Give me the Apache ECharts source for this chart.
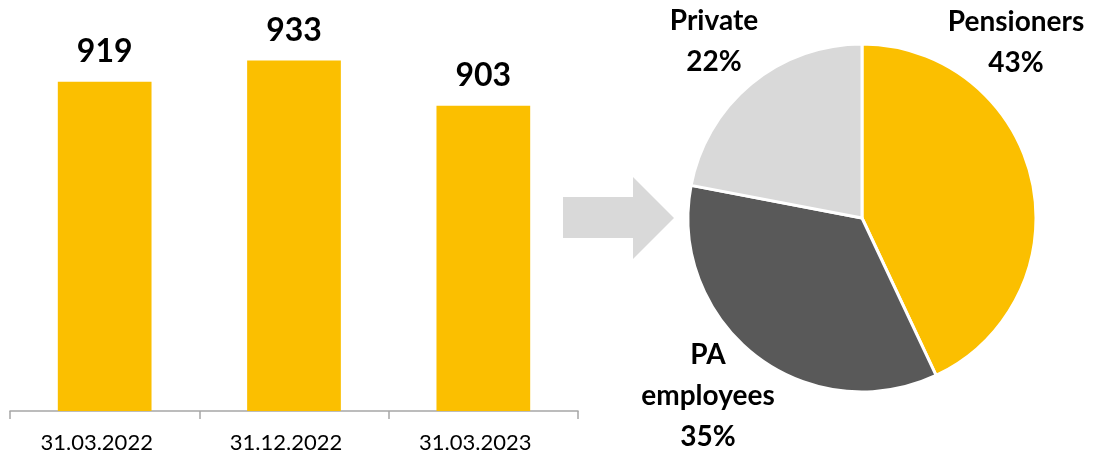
<!DOCTYPE html>
<html>

<head>
    <meta charset="utf-8" />
    <title>Clients</title>
    <script src="https://cdn.jsdelivr.net/npm/echarts@6.0.0/dist/echarts.min.js"></script>
    <style>
        html, body {
            margin: 0;
            padding: 0;
            background: #fff;
        }
    </style>
</head>

<body>
    <div id="main" style="width: 1094px;height:459px;"></div>
</body>

<script>
    // 数据
    var dates = ['31.03.2022', '31.12.2022', '31.03.2023'];
    var clients = [919, 933, 903];
    var segmentNames = ['Pensioners', 'PA employees', 'Private'];
    var segmentShares = [43, 35, 22];
    var segmentColors = ['#FBBF00', '#595959', '#D9D9D9'];

    // 饼图标签位置
    var labelSpots = {
        'Pensioners': [1016, 42],
        'PA employees': [708, 396],
        'Private': [714, 41]
    };

    var myChart = echarts.init(document.getElementById('main'));
    var font = 'Lato, "Open Sans", sans-serif';

    var option = {
        animation: false,
        grid: {
            left: 10,
            right: 516,
            top: 20,
            bottom: 48
        },
        xAxis: {
            type: 'category',
            data: dates,
            axisLine: { show: true, lineStyle: { color: '#A6A6A6', width: 1.5 } },
            axisTick: { show: true, length: 8, lineStyle: { color: '#A6A6A6', width: 1.5 } },
            axisLabel: {
                color: '#000',
                fontFamily: font,
                fontSize: 22,
                margin: 21,
                padding: [0, 16, 0, 0]
            }
        },
        yAxis: {
            type: 'value',
            min: 700,
            max: 960,
            show: false,
            splitLine: { show: false }
        },
        series: [
            {
                type: 'bar',
                data: clients,
                barWidth: '49.5%',
                itemStyle: { color: '#FBBF00' },
                label: {
                    show: true,
                    position: 'top',
                    distance: 14,
                    color: '#000',
                    fontFamily: font,
                    fontWeight: 'bold',
                    fontSize: 32
                }
            },
            {
                type: 'pie',
                center: [862, 218],
                radius: 174,
                startAngle: 90,
                avoidLabelOverlap: false,
                data: segmentNames.map(function (n, i) {
                    return { name: n, value: segmentShares[i], itemStyle: { color: segmentColors[i] } };
                }),
                itemStyle: { borderColor: '#fff', borderWidth: 3 },
                label: {
                    show: true,
                    position: 'outside',
                    formatter: function (p) {
                        return p.name.replace(' ', '\n') + '\n' + p.value + '%';
                    },
                    color: '#000',
                    fontFamily: font,
                    fontWeight: 'bold',
                    fontSize: 28,
                    lineHeight: 41,
                    align: 'center'
                },
                labelLine: { show: false },
                labelLayout: function (params) {
                    var name = segmentNames[params.dataIndex];
                    var spot = labelSpots[name];
                    return {
                        x: spot[0],
                        y: spot[1],
                        align: 'center',
                        verticalAlign: 'middle'
                    };
                },
                emphasis: { disabled: true }
            }
        ],
        graphic: [
            {
                type: 'polygon',
                shape: {
                    points: [[563, 197], [633, 197], [633, 177], [674, 218], [633, 259], [633, 238], [563, 238]]
                },
                style: { fill: '#D9D9D9' }
            }
        ]
    };

    myChart.setOption(option);
</script>

</html>
